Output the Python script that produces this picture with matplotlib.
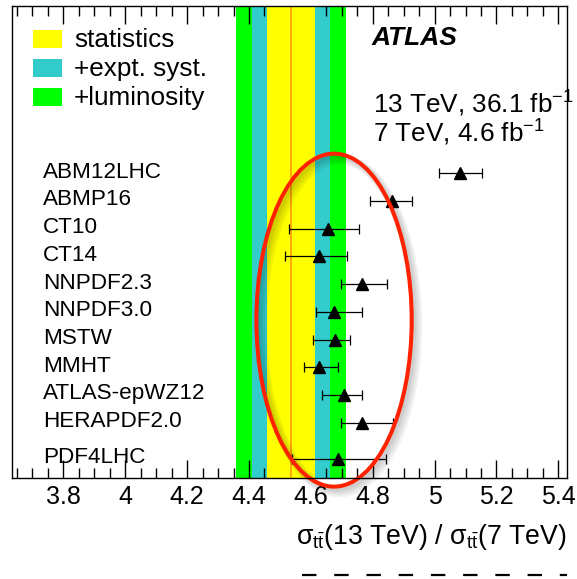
import numpy as np
import matplotlib
matplotlib.use("Agg")
import matplotlib.pyplot as plt
from matplotlib.patches import Ellipse, Rectangle
from matplotlib.lines import Line2D
from matplotlib.ticker import MultipleLocator, FixedLocator
import matplotlib.transforms as mtransforms

plt.rcParams["font.family"] = ["Liberation Sans", "DejaVu Sans"]
plt.rcParams["mathtext.fontset"] = "custom"
plt.rcParams["mathtext.rm"] = "Liberation Sans"
plt.rcParams["mathtext.it"] = "Liberation Sans:italic"
plt.rcParams["mathtext.bf"] = "Liberation Sans:bold"

# PDF predictions for the 13 TeV / 7 TeV ttbar cross-section ratio
pdf_sets = ["ABM12LHC", "ABMP16", "CT10", "CT14", "NNPDF2.3", "NNPDF3.0",
            "MSTW", "MMHT", "ATLAS-epWZ12", "HERAPDF2.0", "PDF4LHC"]
ratio = [5.083, 4.861, 4.656, 4.626, 4.766, 4.676, 4.677, 4.626, 4.707, 4.766, 4.687]
err_lo = [0.068, 0.069, 0.128, 0.109, 0.070, 0.059, 0.071, 0.049, 0.071, 0.070, 0.147]
err_hi = [0.069, 0.067, 0.100, 0.091, 0.079, 0.090, 0.049, 0.061, 0.058, 0.100, 0.157]

# Measured ratio and its cumulative uncertainty bands
meas_central = 4.536
unc_stat = 0.077
unc_expt = 0.126
unc_lumi = 0.177

band_labels = ["statistics", "+expt. syst.", "+luminosity"]
band_colors = ["#ffff00", "#33cccc", "#00ff00"]

xtick_values = [3.8, 4.0, 4.2, 4.4, 4.6, 4.8, 5.0, 5.2, 5.4]
xtick_labels = ["3.8", "4", "4.2", "4.4", "4.6", "4.8", "5", "5.2", "5.4"]

W, H = 577, 579
fig = plt.figure(figsize=(W / 100, H / 100), dpi=100)


def fx(x):
    return x / W


def fy(y):
    return 1 - y / H


ax = fig.add_axes([fx(12), fy(478.3), 555.3 / W, 472.3 / H])
ax.set_xlim(3.634, 5.429)

# row positions: one per PDF set, extra gap before the combined PDF4LHC
pos = np.arange(len(pdf_sets), dtype=float)
pos[-1] += 0.3
ax.set_ylim(11.01, -6.04)

# uncertainty bands
for unc, col, z in zip([unc_lumi, unc_expt, unc_stat], band_colors[::-1], [1, 2, 3]):
    ax.axvspan(meas_central - unc, meas_central + unc, color=col, lw=0, zorder=z)
ax.axvline(meas_central, color="#ff9900", lw=1.2, zorder=4)

# predictions
ax.errorbar(ratio, pos, xerr=[err_lo, err_hi], fmt="^", color="black",
            ms=8.5, elinewidth=0.9, capsize=3.5, capthick=0.9, zorder=6)

# labels of PDF sets
lab_tr = mtransforms.blended_transform_factory(ax.transAxes, ax.transData)
for name, p in zip(pdf_sets, pos):
    ax.text((43.3 - 12) / 555.3, p + 0.16, name, transform=lab_tr,
            ha="left", va="baseline", fontsize=16.2)

# highlighting ellipse with a soft shadow
ex, ey = 4.675, 5.30
ew, eh = 0.502, 12.02
for k in range(4):
    sh = Ellipse((ex + (2.5 + k) / 310.6, ey + (2.5 + k) / 27.7), ew, eh,
                 fill=False, ec="black", lw=2.9 + 1.5 * k, alpha=0.05,
                 clip_on=False, zorder=7)
    ax.add_patch(sh)
ell = Ellipse((ex, ey), ew, eh, fill=False, ec="#ff2200", lw=2.9,
              clip_on=False, zorder=8)
ax.add_patch(ell)

# axes styling
ax.set_yticks([])
ax.xaxis.set_major_locator(FixedLocator(xtick_values))
ax.set_xticklabels(xtick_labels)
ax.xaxis.set_minor_locator(MultipleLocator(0.05))
ax.tick_params(axis="x", which="major", direction="in", top=True, bottom=True,
               length=13, width=1, labelsize=18, pad=5)
ax.tick_params(axis="x", which="minor", direction="in", top=True, bottom=True,
               length=7, width=1)
for s in ax.spines.values():
    s.set_linewidth(1)
    s.set_zorder(10)
ax.set_axisbelow(False)

# legend
sq_top = [30, 59, 88]
txt_base = [46.7, 76, 105.5]
for col, lab, t, b in zip(band_colors, band_labels, sq_top, txt_base):
    fig.patches.append(Rectangle((fx(33), fy(t + 18)), 29 / W, 18 / H,
                                 transform=fig.transFigure, color=col, lw=0))
    fig.text(fx(74), fy(b), lab, ha="left", va="baseline", fontsize=18.8)

fig.text(fx(371.7), fy(45), "ATLAS", ha="left", va="baseline", fontsize=19,
         fontweight="bold", fontstyle="italic")
fig.text(fx(372.7), fy(113.3), r"13 TeV, 36.1 fb$^{-1}$", ha="left",
         va="baseline", fontsize=18.8)
fig.text(fx(372.7), fy(141.7), r"7 TeV, 4.6 fb$^{-1}$", ha="left",
         va="baseline", fontsize=18.8)

fig.text(fx(567), fy(544),
         r"σ$_{\mathrm{t\bar{t}}}$(13 TeV) / σ$_{\mathrm{t\bar{t}}}$(7 TeV)",
         ha="right", va="baseline", fontsize=19.2)

fig.lines.append(Line2D([fx(301.7), fx(567)], [fy(575), fy(575)],
                        transform=fig.transFigure, color="black", lw=1.6,
                        linestyle=(0, (6.5, 8))))

fig.savefig("out.png", dpi=100)
